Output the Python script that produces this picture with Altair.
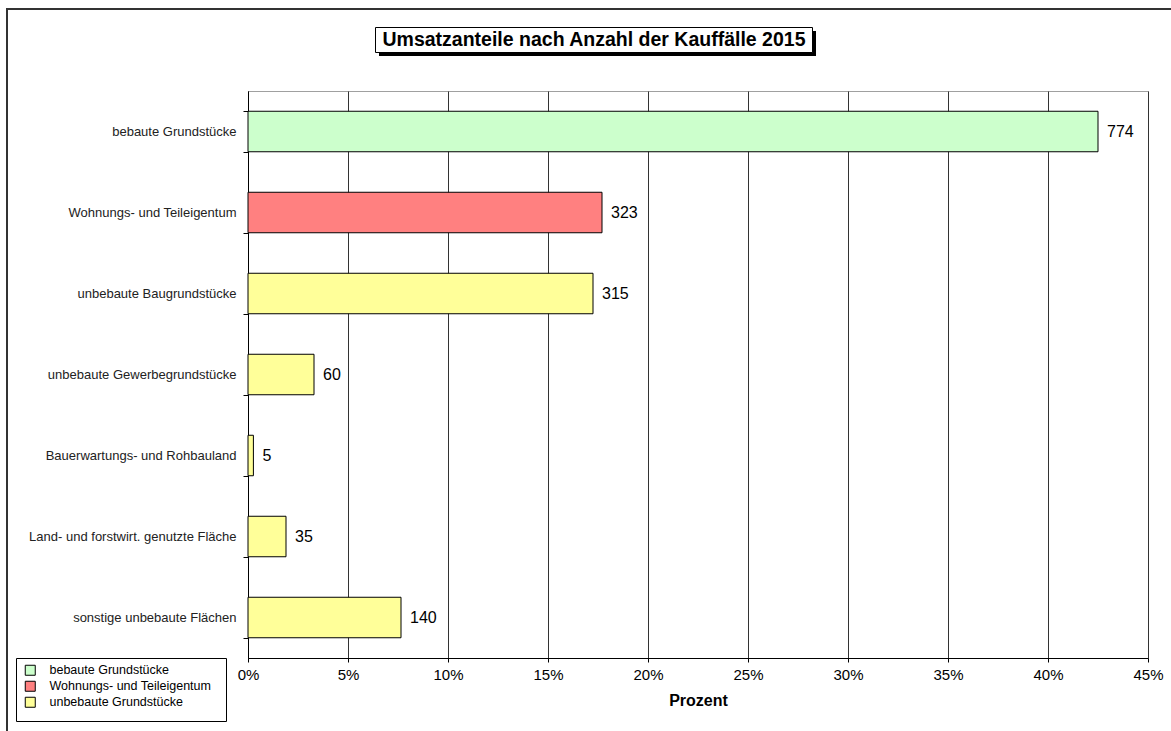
import altair as alt
import pandas as pd

categories = [
    "bebaute Grundstücke",
    "Wohnungs- und Teileigentum",
    "unbebaute Baugrundstücke",
    "unbebaute Gewerbegrundstücke",
    "Bauerwartungs- und Rohbauland",
    "Land- und forstwirt. genutzte Fläche",
    "sonstige unbebaute Flächen",
]
anteil = [0.425, 0.177, 0.1725, 0.033, 0.0027, 0.019, 0.0765]
anzahl = [774, 323, 315, 60, 5, 35, 140]
gruppe = [
    "bebaute Grundstücke",
    "Wohnungs- und Teileigentum",
    "unbebaute Grundstücke",
    "unbebaute Grundstücke",
    "unbebaute Grundstücke",
    "unbebaute Grundstücke",
    "unbebaute Grundstücke",
]
gruppen = ["bebaute Grundstücke", "Wohnungs- und Teileigentum", "unbebaute Grundstücke"]
farben = ["#CCFFCC", "#FF8080", "#FFFF99"]
x_ticks = [0, 0.05, 0.10, 0.15, 0.20, 0.25, 0.30, 0.35, 0.40, 0.45]
titel = "Umsatzanteile nach Anzahl der Kauffälle 2015"

df = pd.DataFrame({"Kategorie": categories, "Anteil": anteil, "Anzahl": anzahl, "Gruppe": gruppe})

FONT = "Liberation Sans"

y_enc = alt.Y(
    "Kategorie:N",
    sort=None,
    scale=alt.Scale(paddingInner=0.5, paddingOuter=0.25),
    axis=alt.Axis(
        title=None,
        tickBand="extent",
        tickSize=5,
        labelPadding=7,
        labelFontSize=13,
        labelFont=FONT,
        labelColor="#222222",
        domainColor="#000000",
        tickColor="#000000",
        labelLimit=300,
        grid=False,
    ),
)
x_enc = alt.X(
    "Anteil:Q",
    scale=alt.Scale(domain=[0, 0.45], nice=False),
    axis=alt.Axis(
        values=x_ticks,
        format=".0%",
        title="Prozent",
        titleFont=FONT,
        titleFontSize=16,
        titleFontWeight="bold",
        titleColor="#000000",
        titlePadding=10,
        labelFont=FONT,
        labelFontSize=15,
        labelColor="#000000",
        labelPadding=5,
        labelFlush=False,
        labelOverlap=False,
        tickSize=4,
        tickColor="#000000",
        domainColor="#000000",
        grid=True,
        gridColor="#333333",
        gridOpacity=1,
    ),
)

bars = alt.Chart(df).mark_bar(stroke="#000000", strokeWidth=1).encode(
    y=y_enc,
    x=x_enc,
    color=alt.Color(
        "Gruppe:N",
        scale=alt.Scale(domain=gruppen, range=farben),
        legend=alt.Legend(
            title=None,
            orient="none",
            legendX=-224,
            legendY=573,
            symbolType="square",
            symbolSize=100,
            symbolStrokeColor="#000000",
            symbolStrokeWidth=1,
            symbolOpacity=1,
            labelFont=FONT,
            labelFontSize=12.5,
            labelColor="#000000",
            labelOffset=13,
            labelLimit=400,
            rowPadding=1,
            padding=0,
        ),
    ),
)

labels = alt.Chart(df).mark_text(
    align="left", baseline="middle", dx=9, font=FONT, fontSize=16, color="#000000"
).encode(y=alt.Y("Kategorie:N", sort=None), x="Anteil:Q", text="Anzahl:Q")

one = alt.Data(values=[{"k": 1}])

frame_left = alt.Chart(one).mark_rule(color="#333333", strokeWidth=2).encode(
    x=alt.value(-241), y=alt.value(-82), y2=alt.value(650)
)
frame_top = alt.Chart(one).mark_rule(color="#333333", strokeWidth=2).encode(
    x=alt.value(-242), x2=alt.value(930), y=alt.value(-82)
)

title_shadow = alt.Chart(one).mark_rect(color="#000000").encode(
    x=alt.value(131), x2=alt.value(568), y=alt.value(-60), y2=alt.value(-35)
)
title_box = alt.Chart(one).mark_rect(fill="#ffffff", stroke="#000000", strokeWidth=1).encode(
    x=alt.value(127.5), x2=alt.value(564.5), y=alt.value(-63.5), y2=alt.value(-38.5)
)
title_text = alt.Chart(one).mark_text(
    font=FONT, fontSize=19.5, fontWeight="bold", align="center", baseline="middle", color="#000000"
).encode(x=alt.value(346), y=alt.value(-51), text=alt.value(titel))

legend_box = alt.Chart(one).mark_rect(fill="#ffffff", stroke="#000000", strokeWidth=1).encode(
    x=alt.value(-231.5), x2=alt.value(-21.5), y=alt.value(567.5), y2=alt.value(630.5)
)

chart = alt.layer(
    frame_left, frame_top, legend_box, title_shadow, title_box, title_text, bars, labels
).properties(
    width=900,
    height=567,
    autosize=alt.AutoSizeParams(type="none"),
    padding={"left": 248, "top": 91, "right": 23, "bottom": 73},
    background="#ffffff",
).configure_view(stroke="#a0a0a0", strokeWidth=1)

chart.save("out.html", embed_options={"renderer": "svg", "actions": False})
